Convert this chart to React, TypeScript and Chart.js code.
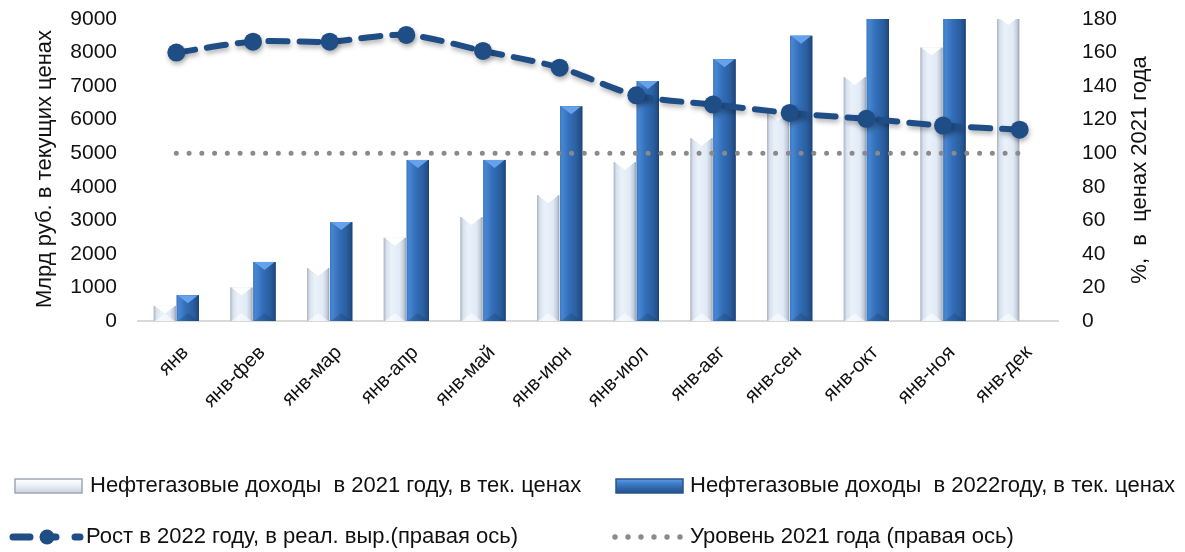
import { useEffect, useRef } from 'react';
import { Chart, registerables } from 'chart.js';

Chart.register(...registerables);

// Cumulative periods of the year
const periods = [
  'янв', 'янв-фев', 'янв-мар', 'янв-апр', 'янв-май', 'янв-июн',
  'янв-июл', 'янв-авг', 'янв-сен', 'янв-окт', 'янв-ноя', 'янв-дек',
];

// Oil & gas revenues, bn rub, current prices (cumulative)
const revenue2021 = [450, 1000, 1580, 2480, 3100, 3750, 4740, 5450, 6200, 7270, 8150, 9056];
const revenue2022 = [770, 1760, 2950, 4800, 4800, 6400, 7150, 7800, 8500, 9500, 10500, null];

// Growth in 2022 in real terms, % of 2021 level (right axis)
const realGrowth2022 = [160, 166.5, 166.5, 170.5, 161, 151, 134.5, 129, 124, 120.5, 116.5, 114];
const level2021 = [100, 100, 100, 100, 100, 100, 100, 100, 100, 100, 100, 100];

const leftMax = 9000;
const leftStep = 1000;
const rightMax = 180;
const rightStep = 20;

const leftTitle = 'Млрд руб. в текущих ценах';
const rightTitle = '%,  в  ценах 2021 года';
const legendLabels = [
  'Нефтегазовые доходы  в 2021 году, в тек. ценах',
  'Нефтегазовые доходы  в 2022году, в тек. ценах',
  'Рост в 2022 году, в реал. выр.(правая ось)',
  'Уровень 2021 года (правая ось)',
];

const FONT = '"Liberation Sans", Arial, sans-serif';
const NAVY = '#1f4d86';
const DOT_GREY = '#8a8a8a';
const TEXT = '#111111';

function paintBar(ctx: CanvasRenderingContext2D, x: number, top: number, base: number, width: number, dark: boolean) {
  const left = x - width / 2;
  const right = x + width / 2;
  const h = base - top;
  if (h <= 0) return;
  const g = ctx.createLinearGradient(left, 0, right, 0);
  if (dark) {
    g.addColorStop(0, '#3c78c2');
    g.addColorStop(0.1, '#4886d2');
    g.addColorStop(0.4, '#336fb9');
    g.addColorStop(0.75, '#2a5e9f');
    g.addColorStop(0.92, '#224f88');
    g.addColorStop(1, '#1c416f');
  } else {
    g.addColorStop(0, '#a9b3c1');
    g.addColorStop(0.12, '#d7e1ed');
    g.addColorStop(0.35, '#eaf1fa');
    g.addColorStop(0.72, '#e1eaf5');
    g.addColorStop(0.9, '#c2ccd9');
    g.addColorStop(1, '#98a3b2');
  }
  ctx.fillStyle = g;
  ctx.fillRect(left, top, width, h);

  const cap = Math.min(8, h / 2);
  ctx.beginPath();
  ctx.moveTo(left + 1, top);
  ctx.lineTo(right - 1, top);
  ctx.lineTo(x, top + cap);
  ctx.closePath();
  ctx.fillStyle = dark ? '#66a2ec' : '#ffffff';
  ctx.fill();

  ctx.beginPath();
  ctx.moveTo(left + 1, base);
  ctx.lineTo(right - 1, base);
  ctx.lineTo(x, base - cap);
  ctx.closePath();
  ctx.fillStyle = dark ? 'rgba(20,50,90,0.25)' : 'rgba(255,255,255,0.55)';
  ctx.fill();
}

const bevelBars = {
  id: 'bevelBars',
  afterDatasetDraw(chart: any, args: any) {
    if (args.index > 1) return;
    const { ctx, chartArea } = chart;
    ctx.save();
    ctx.beginPath();
    ctx.rect(chartArea.left, chartArea.top, chartArea.right - chartArea.left, chartArea.bottom - chartArea.top);
    ctx.clip();
    args.meta.data.forEach((el: any) => {
      const p = el.getProps(['x', 'y', 'base', 'width'], true);
      if (p.y == null || isNaN(p.y)) return;
      paintBar(ctx, p.x, p.y, p.base, p.width, args.index === 1);
    });
    ctx.restore();
  },
};

const lineShadow = {
  id: 'lineShadow',
  beforeDatasetDraw(chart: any, args: any) {
    if (args.index !== 2) return;
    const ctx = chart.ctx;
    ctx.save();
    ctx.shadowColor = 'rgba(0,0,0,0.3)';
    ctx.shadowBlur = 5;
    ctx.shadowOffsetX = 1;
    ctx.shadowOffsetY = 3;
  },
  afterDatasetDraw(chart: any, args: any) {
    if (args.index !== 2) return;
    chart.ctx.restore();
  },
};

function legendBar(ctx: CanvasRenderingContext2D, x: number, y: number, w: number, h: number, dark: boolean) {
  const g = ctx.createLinearGradient(0, y, 0, y + h);
  if (dark) {
    g.addColorStop(0, '#5d9be6');
    g.addColorStop(0.35, '#3d7bc7');
    g.addColorStop(1, '#234f88');
  } else {
    g.addColorStop(0, '#ffffff');
    g.addColorStop(0.4, '#eef3f9');
    g.addColorStop(1, '#c9d2de');
  }
  ctx.fillStyle = g;
  ctx.fillRect(x, y, w, h);
  ctx.strokeStyle = dark ? '#2a5590' : '#9ea8b6';
  ctx.lineWidth = 1.5;
  ctx.strokeRect(x, y, w, h);
}

const annotations = {
  id: 'annotations',
  afterDraw(chart: any) {
    const ctx: CanvasRenderingContext2D = chart.ctx;
    ctx.save();
    ctx.fillStyle = TEXT;
    ctx.font = `22px ${FONT}`;
    ctx.textAlign = 'center';
    ctx.textBaseline = 'middle';

    // axis titles, both reading bottom-to-top
    ctx.save();
    ctx.translate(45, 169);
    ctx.rotate(-Math.PI / 2);
    ctx.fillText(leftTitle, 0, 0);
    ctx.restore();

    ctx.save();
    ctx.translate(1140, 170);
    ctx.rotate(-Math.PI / 2);
    ctx.fillText(rightTitle, 0, 0);
    ctx.restore();

    // legend
    ctx.textAlign = 'left';
    const row1 = 486;
    const row2 = 537;
    legendBar(ctx, 15, row1 - 7, 67, 14, false);
    ctx.fillStyle = TEXT;
    ctx.fillText(legendLabels[0], 90, row1);

    legendBar(ctx, 616, row1 - 7, 67, 14, true);
    ctx.fillStyle = TEXT;
    ctx.fillText(legendLabels[1], 690, row1);

    ctx.strokeStyle = NAVY;
    ctx.fillStyle = NAVY;
    ctx.lineWidth = 7;
    ctx.lineCap = 'round';
    ctx.beginPath();
    ctx.moveTo(13, row2);
    ctx.lineTo(30, row2);
    ctx.moveTo(47, row2);
    ctx.lineTo(56, row2);
    ctx.moveTo(75, row2);
    ctx.lineTo(80, row2);
    ctx.stroke();
    ctx.beginPath();
    ctx.arc(47, row2, 7.5, 0, Math.PI * 2);
    ctx.fill();
    ctx.fillStyle = TEXT;
    ctx.fillText(legendLabels[2], 86, row2);

    ctx.fillStyle = DOT_GREY;
    for (let i = 0; i < 6; i++) {
      ctx.beginPath();
      ctx.arc(615 + i * 13, row2, 2.7, 0, Math.PI * 2);
      ctx.fill();
    }
    ctx.fillStyle = TEXT;
    ctx.fillText(legendLabels[3], 690, row2);
    ctx.restore();
  },
};

const plainNumber = (value: any) => String(value);

// Value axes: fixed width, and no extra room above/below the plot for the end labels
const fitValueAxis = (width: number) => (scale: any) => {
  scale.width = width;
  scale.paddingTop = 0;
  scale.paddingBottom = 0;
};

export default function App() {
  const canvasRef = useRef<HTMLCanvasElement | null>(null);

  useEffect(() => {
    if (!canvasRef.current) return;
    const chart = new Chart(canvasRef.current, {
      type: 'bar',
      data: {
        labels: periods,
        datasets: [
          {
            type: 'bar',
            label: legendLabels[0],
            data: revenue2021,
            yAxisID: 'y',
            backgroundColor: '#e4ecf6',
            categoryPercentage: 0.6,
            barPercentage: 0.97,
            order: 3,
          },
          {
            type: 'bar',
            label: legendLabels[1],
            data: revenue2022,
            yAxisID: 'y',
            backgroundColor: '#2f68b0',
            categoryPercentage: 0.6,
            barPercentage: 0.97,
            order: 3,
          },
          {
            type: 'line',
            label: legendLabels[2],
            data: realGrowth2022,
            yAxisID: 'y1',
            borderColor: NAVY,
            backgroundColor: NAVY,
            borderWidth: 6,
            borderDash: [19, 12],
            borderCapStyle: 'round',
            tension: 0.3,
            pointRadius: 9,
            pointBorderWidth: 0,
            pointBackgroundColor: NAVY,
            fill: false,
            order: 1,
          },
          {
            type: 'line',
            label: legendLabels[3],
            data: level2021,
            yAxisID: 'y1',
            borderColor: DOT_GREY,
            borderWidth: 5,
            borderDash: [0, 12.75],
            borderCapStyle: 'round',
            pointRadius: 0,
            fill: false,
            order: 2,
          },
        ] as any,
      },
      options: {
        responsive: false,
        animation: false,
        layout: { padding: { top: 19, left: 0, right: 0, bottom: 0 } },
        plugins: {
          legend: { display: false },
          tooltip: { enabled: false },
        },
        scales: {
          x: {
            grid: { display: false, drawTicks: false },
            border: { display: true, color: '#d9d9d9', width: 2 },
            ticks: {
              autoSkip: false,
              maxRotation: 45,
              minRotation: 45,
              padding: 20,
              labelOffset: 9,
              color: TEXT,
              font: { family: FONT, size: 20 },
            },
            afterFit(scale: any) {
              scale.height = 231;
            },
          },
          y: {
            position: 'left',
            min: 0,
            max: leftMax,
            grid: { display: false, drawTicks: false },
            border: { display: false },
            ticks: {
              stepSize: leftStep,
              padding: 21,
              color: TEXT,
              font: { family: FONT, size: 21 },
              callback: plainNumber,
            },
            afterFit: fitValueAxis(138),
          },
          y1: {
            position: 'right',
            min: 0,
            max: rightMax,
            grid: { display: false, drawTicks: false },
            border: { display: false },
            ticks: {
              stepSize: rightStep,
              padding: 24,
              color: TEXT,
              font: { family: FONT, size: 21 },
              callback: plainNumber,
            },
            afterFit: fitValueAxis(127),
          },
        },
      },
      plugins: [bevelBars, lineShadow, annotations],
    });
    return () => chart.destroy();
  }, []);

  return (
    <div style={{ position: 'absolute', left: 0, top: 0, width: 1185, height: 552, background: '#ffffff' }}>
      <canvas ref={canvasRef} width={1185} height={552} style={{ display: 'block' }} />
    </div>
  );
}
